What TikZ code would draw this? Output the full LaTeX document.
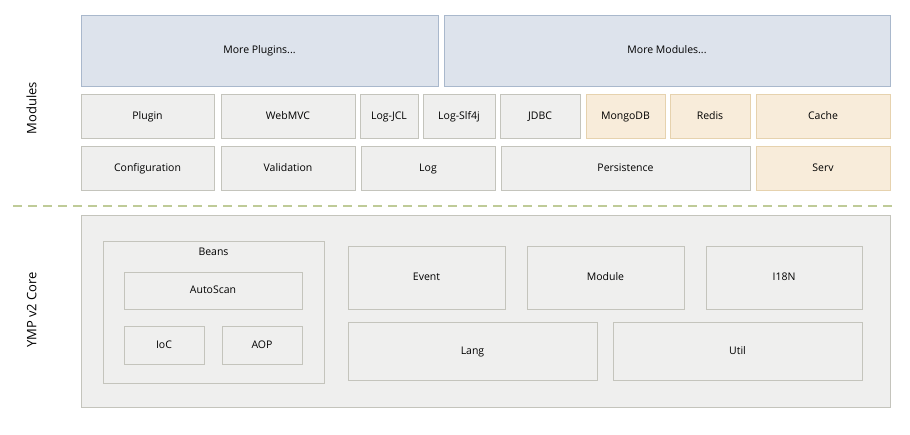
\documentclass[tikz,border=0pt]{standalone}
\usepackage{fontspec}
\setmainfont{Open Sans}
\usetikzlibrary{positioning}
\definecolor{boxfill}{HTML}{EFEFEE}
\definecolor{boxline}{HTML}{C4C4BC}
\definecolor{bluefill}{HTML}{DDE3EC}
\definecolor{blueline}{HTML}{A9B8CC}
\definecolor{orgfill}{HTML}{F8ECDA}
\definecolor{orgline}{HTML}{E6D2AE}
\definecolor{dashgreen}{HTML}{BFCB98}
\begin{document}
\begin{tikzpicture}[x=1pt,y=-1pt,font=\fontsize{10.5}{12}\selectfont,
  every node/.style={text height=1.7ex,text depth=0.4ex},
  box/.style={draw=boxline,fill=boxfill,line width=0.8pt},
  bluebox/.style={draw=blueline,fill=bluefill,line width=0.8pt},
  orgbox/.style={draw=orgline,fill=orgfill,line width=0.8pt},
  side/.style={rotate=90,font=\fontsize{13}{15}\selectfont}]
  \useasboundingbox (0,0) rectangle (910,434);
  % modules
  \draw [bluebox] (81,15) rectangle (438,86);
  \node (plugins) at (259.5,50) {More Plugins...};
  \draw [bluebox] (444,15) rectangle (890,86);
  \node (modules) at (667,50) {More Modules...};
  \foreach \xa/\xb/\name/\st in {81/214/Plugin/box,221/355/WebMVC/box,360/418/Log-JCL/box,
      423/495/Log-Slf4j/box,500/580/JDBC/box,586/665/MongoDB/orgbox,670/750/Redis/orgbox,
      756/890/Cache/orgbox}{
    \draw [\st] (\xa,94) rectangle (\xb,138);
    \node (\name) at ({(\xa+\xb)/2},116) {\name};
  }
  \foreach \xa/\xb/\name/\st in {81/214/Configuration/box,221/355/Validation/box,361/495/Log/box,
      501/750/Persistence/box,756/890/Serv/orgbox}{
    \draw [\st] (\xa,146) rectangle (\xb,190);
    \node (\name) at ({(\xa+\xb)/2},168) {\name};
  }
  \draw [dashgreen,line width=1.5pt,dash pattern=on 9pt off 6pt] (13,206) -- (895,206);
  % core
  \draw [box] (81,215) rectangle (890,407);
  \draw [box] (103,241) rectangle (324,383);
  \node (beans) at (213.5,252) {Beans};
  \draw [box] (124,272) rectangle (302,309);
  \node (autoscan) at (213,290.5) {AutoScan};
  \draw [box] (124,326) rectangle (204,364);
  \node (ioc) at (164,345) {IoC};
  \draw [box] (222,326) rectangle (302,364);
  \node (aop) at (262,345) {AOP};
  \foreach \xa/\xb/\name in {348/505/Event,527/684/Module,706/862/I18N}{
    \draw [box] (\xa,246) rectangle (\xb,309);
    \node (\name) at ({(\xa+\xb)/2},277.5) {\name};
  }
  \draw [box] (348,322) rectangle (597,380);
  \node (lang) at (472.5,351) {Lang};
  \draw [box] (613,322) rectangle (862,380);
  \node (util) at (737.5,351) {Util};
  % side labels
  \node [side] (modlabel) at (33,108) {Modules};
  \node [side] (corelabel) at (33,310) {YMP v2 Core};
\end{tikzpicture}
\end{document}
